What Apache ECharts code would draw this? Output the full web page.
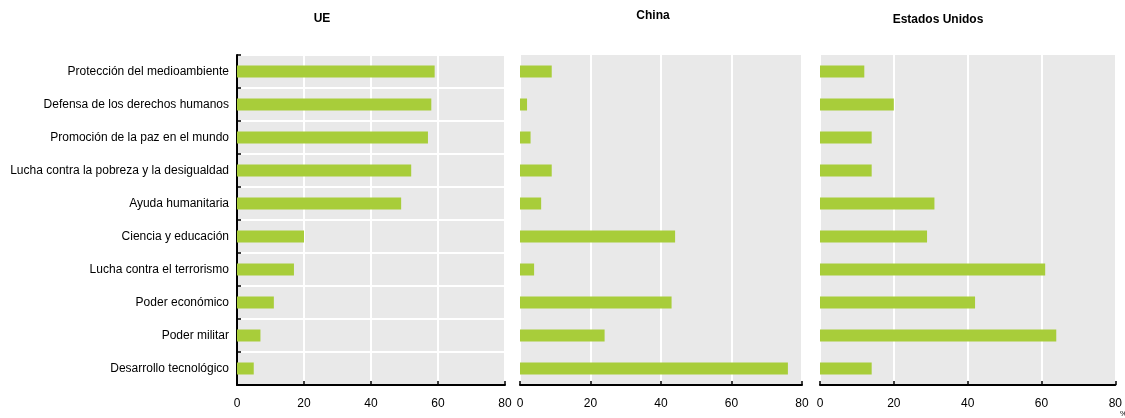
<!DOCTYPE html>
<html>
<head>
<meta charset="utf-8">
<script src="https://cdn.jsdelivr.net/npm/echarts@6/dist/echarts.min.js"></script>
<style>
html,body{margin:0;padding:0;background:#fff;}
#c{width:1125px;height:418px;}
</style>
</head>
<body>
<div id="c"></div>
<script>
const categories = [
  "Protección del medioambiente",
  "Defensa de los derechos humanos",
  "Promoción de la paz en el mundo",
  "Lucha contra la pobreza y la desigualdad",
  "Ayuda humanitaria",
  "Ciencia y educación",
  "Lucha contra el terrorismo",
  "Poder económico",
  "Poder militar",
  "Desarrollo tecnológico"
];
const panelTitles = ["UE", "China", "Estados Unidos"];
const valuesUE = [59, 58, 57, 52, 49, 20, 17, 11, 7, 5];
const valuesChina = [9, 2, 3, 9, 6, 44, 4, 43, 24, 76];
const valuesUS = [12, 20, 14, 14, 31, 29, 61, 42, 64, 14];
const xTicks = [0, 20, 40, 60, 80];

const allValues = [valuesUE, valuesChina, valuesUS];
const grids = [
  {left: 237, width: 268},
  {left: 520, width: 282},
  {left: 820, width: 298}
];
const titleTops = [13, 10, 14];
const titleCenters = [322, 653, 938];

const regular = "'Liberation Sans', Arial, sans-serif";

const option = {
  animation: false,
  backgroundColor: '#ffffff',
  grid: grids.map(g => ({
    left: g.left, width: g.width, top: 55, bottom: 33,
    show: true, backgroundColor: '#e9e9e9', borderWidth: 0, containLabel: false
  })),
  xAxis: grids.map((g, i) => ({
    type: 'value', gridIndex: i, min: xTicks[0], max: xTicks[xTicks.length - 1],
    interval: xTicks[1] - xTicks[0],
    axisLine: {show: true, onZero: false, lineStyle: {color: '#000', width: 2}},
    axisTick: {show: true, inside: true, length: 4, lineStyle: {color: '#000', width: 1.5}},
    axisLabel: {show: true, color: '#000', fontFamily: regular, fontSize: 12, margin: 13},
    splitLine: {show: true, lineStyle: {color: '#ffffff', width: 2}}
  })),
  yAxis: grids.map((g, i) => ({
    type: 'category', gridIndex: i, data: categories, inverse: true,
    axisLine: {show: i === 0, lineStyle: {color: '#000', width: 2}},
    axisTick: {show: i === 0, inside: true, length: 4, lineStyle: {color: '#000', width: 1.5}},
    axisLabel: {show: i === 0, color: '#000', fontFamily: regular, fontSize: 12, margin: 8},
    splitLine: {show: i === 0, lineStyle: {color: '#ffffff', width: 2}}
  })),
  series: allValues.map((vals, i) => ({
    type: 'bar', xAxisIndex: i, yAxisIndex: i, data: vals, barWidth: 12,
    itemStyle: {color: '#a8cd3a'}, silent: true
  })),
  graphic: panelTitles.map((t, i) => ({
    type: 'text',
    x: titleCenters[i], y: titleTops[i],
    style: {text: t, fill: '#000', font: 'bold 12px ' + regular, textAlign: 'center', textVerticalAlign: 'top'}
  })).concat([{
    type: 'text', x: 1120, y: 410,
    style: {text: '%', fill: '#000', font: '8px ' + regular, textVerticalAlign: 'top'}
  }])
};

const chart = echarts.init(document.getElementById('c'), null, {renderer: 'canvas'});
chart.setOption(option);
</script>
</body>
</html>
